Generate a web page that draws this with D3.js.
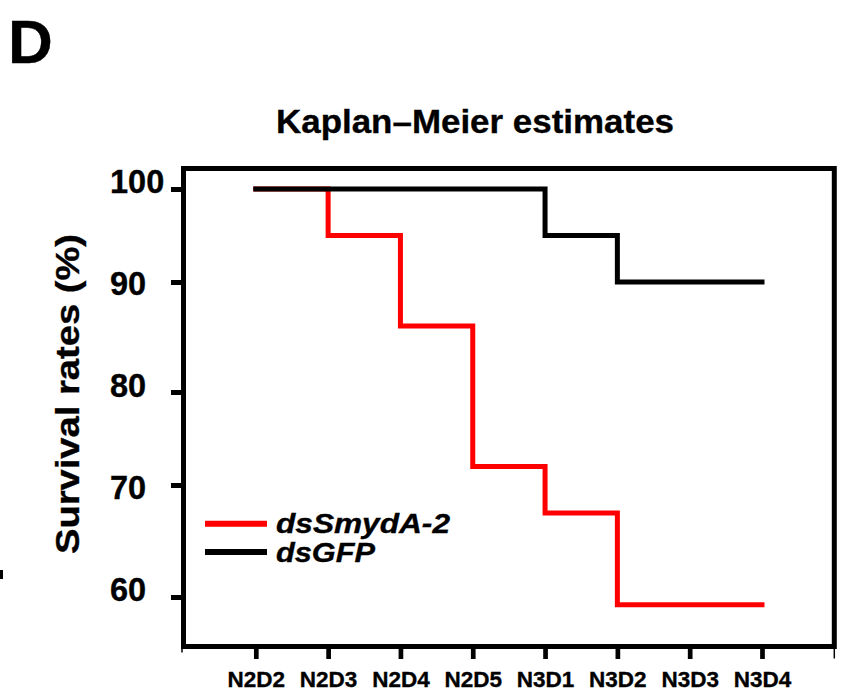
<!DOCTYPE html>
<html>
<head>
<meta charset="utf-8">
<script src="https://cdn.jsdelivr.net/npm/d3@7"></script>
<style>
  html, body { margin: 0; padding: 0; background: #fff; }
  svg { display: block; }
  text { font-family: "Liberation Sans", Arial, Helvetica, sans-serif; font-weight: bold; fill: #000; stroke: #000; stroke-width: 0.35px; }
</style>
</head>
<body>
<svg id="chart" width="860" height="691"></svg>
<script>
// ---- data ----
const categories = ["N2D2", "N2D3", "N2D4", "N2D5", "N3D1", "N3D2", "N3D3", "N3D4"];
const dsSmydA2 = [100, 95, 86, 72, 67.5, 59.3, 59.3, 59.3];
const dsGFP = [100, 100, 100, 100, 95, 90, 90, 90];
const yTicks = [60, 70, 80, 90, 100];
const seriesNames = ["dsSmydA-2", "dsGFP"];
const seriesColors = ["#ff0000", "#000000"];
const titleText = "Kaplan\u2013Meier estimates";
const yLabelText = "Survival rates (%)";
const panelLetter = "D";

// ---- layout ----
const frame = { left: 183.5, right: 834.3, top: 168.5, bottom: 646.5 };
const svg = d3.select("#chart");

const x = d3.scalePoint().domain(categories).range([frame.left, frame.right]).padding(1);
// axis of the source figure is not evenly spaced: piecewise linear scale
const y = d3.scaleLinear().domain(yTicks).range([597, 485, 392, 282, 189]);
const yLabelPos = d3.scaleLinear().domain([60, 100]).range([589.5, 182]);

// panel letter
svg.append("text").attr("x", 8).attr("y", 63).attr("font-size", 62).text(panelLetter);

// stray mark at the left edge of the source image
svg.append("rect").attr("x", 0).attr("y", 570).attr("width", 3).attr("height", 9).attr("fill", "#000");

// title
svg.append("text")
  .attr("x", 276).attr("y", 132.5)
  .attr("font-size", 34)
  .attr("textLength", 398).attr("lengthAdjust", "spacingAndGlyphs")
  .text(titleText);

// y label
svg.append("text")
  .attr("transform", "translate(79,394) rotate(-90)")
  .attr("text-anchor", "middle")
  .attr("font-size", 33)
  .attr("textLength", 320).attr("lengthAdjust", "spacingAndGlyphs")
  .text(yLabelText);

// series lines
const line = d3.line().x((d, i) => x(categories[i])).y(d => y(d)).curve(d3.curveStepAfter);
[dsSmydA2, dsGFP].forEach((vals, k) => {
  svg.append("path")
    .attr("d", line(vals))
    .attr("fill", "none")
    .attr("stroke", seriesColors[k])
    .attr("stroke-width", 5)
    .attr("stroke-linecap", "square")
    .attr("stroke-linejoin", "miter");
});

// frame
svg.append("rect")
  .attr("x", frame.left).attr("y", frame.top)
  .attr("width", frame.right - frame.left).attr("height", frame.bottom - frame.top)
  .attr("fill", "none").attr("stroke", "#000").attr("stroke-width", 5);

// y axis ticks
const yAxis = svg.append("g").attr("transform", `translate(${frame.left},0)`)
  .call(d3.axisLeft(y).tickValues(yTicks).tickSize(12.5).tickFormat(""));
yAxis.select(".domain").remove();
yAxis.selectAll(".tick line").attr("stroke", "#000").attr("stroke-width", 5);

svg.append("g").selectAll("text").data(yTicks).join("text")
  .attr("x", 110)
  .attr("y", d => yLabelPos(d))
  .attr("dy", "0.35em")
  .attr("font-size", 32.5)
  .text(d => d);

// x axis
const xAxis = svg.append("g").attr("transform", `translate(0,${frame.bottom})`)
  .call(d3.axisBottom(x).tickSize(12.5).tickPadding(12.2));
xAxis.select(".domain").remove();
xAxis.selectAll(".tick line").attr("stroke", "#000").attr("stroke-width", 4.7);
xAxis.selectAll(".tick text")
  .attr("font-size", 22.5)
  .attr("font-family", "'Liberation Sans', Arial, Helvetica, sans-serif")
  .attr("font-weight", "bold")
  .attr("fill", "#000");

// thin end ticks of the x axis
svg.append("line").attr("x1", frame.left - 1.5).attr("x2", frame.left - 1.5)
  .attr("y1", frame.bottom + 2.5).attr("y2", frame.bottom + 6)
  .attr("stroke", "#000").attr("stroke-width", 1.5);
svg.append("line").attr("x1", frame.right).attr("x2", frame.right)
  .attr("y1", frame.bottom + 2.5).attr("y2", frame.bottom + 12)
  .attr("stroke", "#000").attr("stroke-width", 1.5);

// legend
const legendY = [523.7, 552];
const legendTextY = [532.5, 561.5];
const legendLen = [174, 99];
seriesNames.forEach((name, k) => {
  svg.append("line")
    .attr("x1", 205).attr("x2", 267)
    .attr("y1", legendY[k]).attr("y2", legendY[k])
    .attr("stroke", seriesColors[k]).attr("stroke-width", 6);
  svg.append("text")
    .attr("x", 276).attr("y", legendTextY[k])
    .attr("font-size", 27.5).attr("font-style", "italic")
    .attr("textLength", legendLen[k]).attr("lengthAdjust", "spacingAndGlyphs")
    .text(name);
});
</script>
</body>
</html>
